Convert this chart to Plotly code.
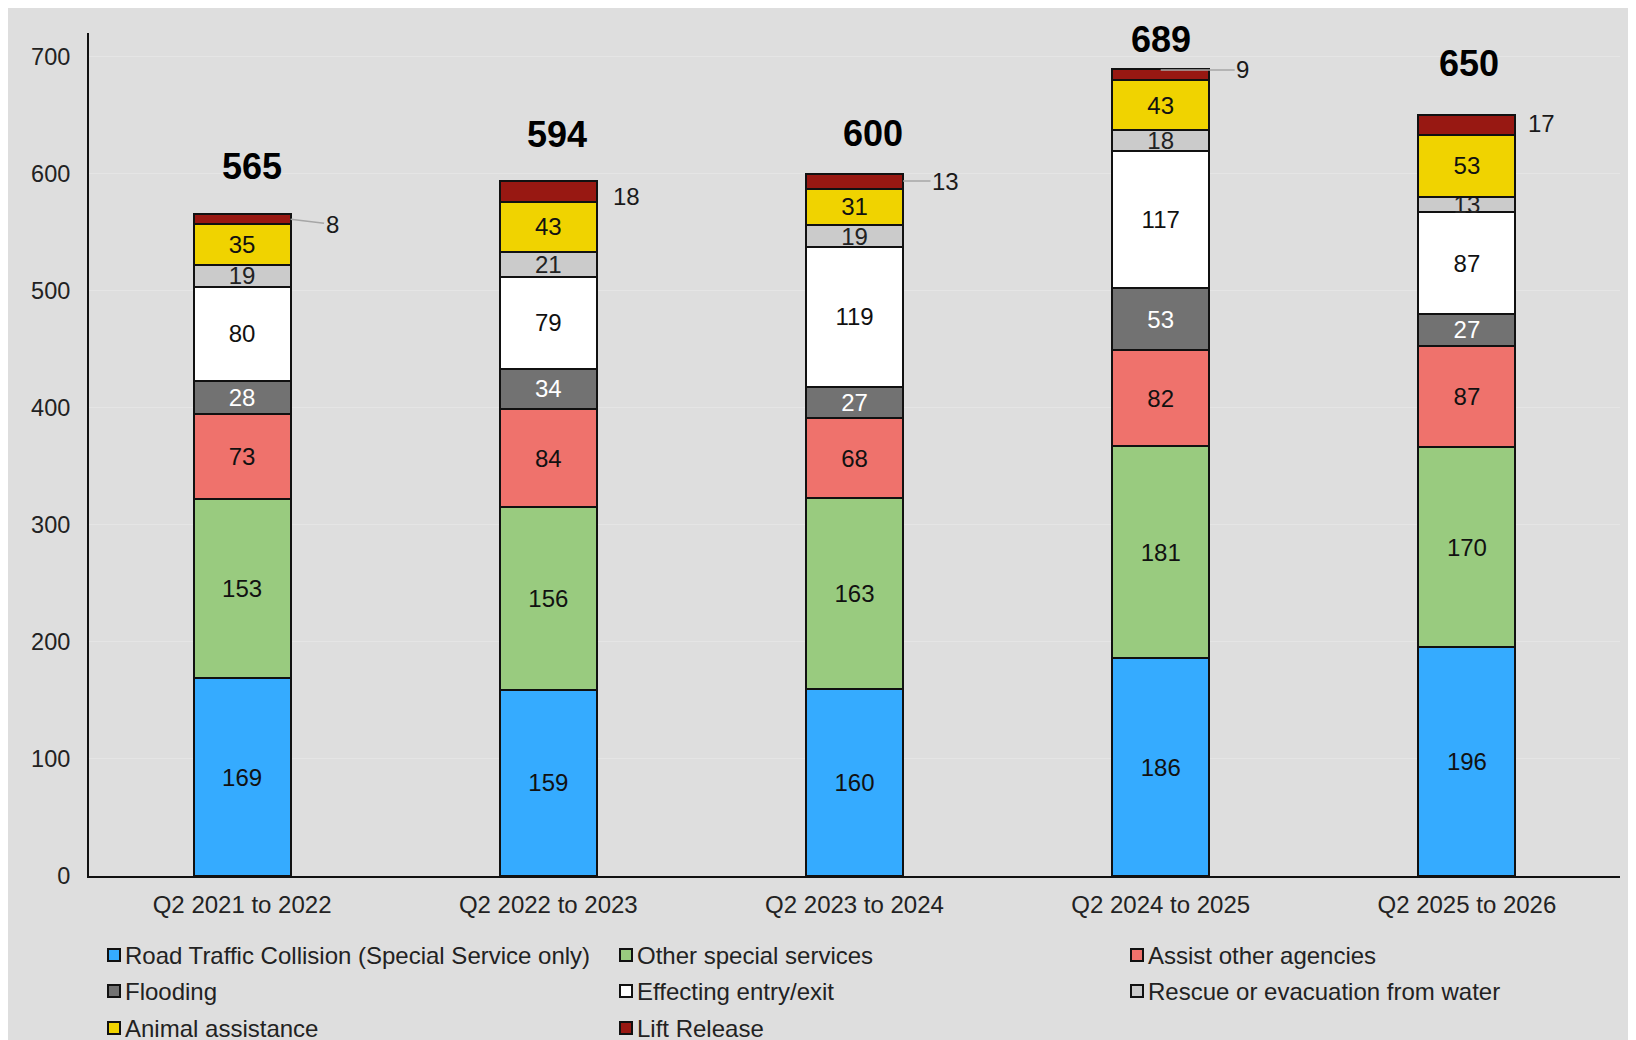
import plotly.graph_objects as go

categories = ["Q2 2021 to 2022", "Q2 2022 to 2023", "Q2 2023 to 2024", "Q2 2024 to 2025", "Q2 2025 to 2026"]

rtc = [169, 159, 160, 186, 196]
other_special = [153, 156, 163, 181, 170]
assist_agencies = [73, 84, 68, 82, 87]
flooding = [28, 34, 27, 53, 27]
effecting_entry = [80, 79, 119, 117, 87]
rescue_water = [19, 21, 19, 18, 13]
animal = [35, 43, 31, 43, 53]
lift_release = [8, 18, 13, 9, 17]

series_names = [
    "Road Traffic Collision (Special Service only)",
    "Other special services",
    "Assist other agencies",
    "Flooding",
    "Effecting entry/exit",
    "Rescue or evacuation from water",
    "Animal assistance",
    "Lift Release",
]
series_values = [rtc, other_special, assist_agencies, flooding, effecting_entry, rescue_water, animal, lift_release]
series_colors = ["#35ABFF", "#99CB7F", "#EF726C", "#727272", "#FFFFFF", "#CBCBCB", "#F0D300", "#981812"]
text_colors = ["#111111", "#111111", "#111111", "#FFFFFF", "#111111", "#222222", "#111111", "#111111"]

# ---- styling / layout constants (pixels, figure coordinates) ----
W, H = 1626, 1040
ML, MR, MT, MB = 81, 14, 25, 172
PW, PH = W - ML - MR, H - MT - MB
CAT_PX = PW / len(categories)
BAR_W = 0.317

total_xshift = [10, 9, 18, 0, 2]
total_yshift = [48, 46, 40, 30, 51]
lift_label_dx = [90, 78, 91, 82, 75]      # label centre relative to bar centre
lift_label_dy = [5, 5, 0, 0, -1]          # positive = lower on screen
lift_has_leader = [True, False, True, True, False]

legend_col_x = [100, 612, 1123]
legend_row_y = [947, 983, 1020]
LEG_BOX = 12

FONT = "Liberation Sans, Arial, sans-serif"
BG = "#DEDEDE"


def px_to_paper_x(px):
    return (px - ML) / PW


def px_to_paper_y(py):
    return (H - MB - py) / PH


fig = go.Figure()
for name, vals, col, tcol in zip(series_names, series_values, series_colors, text_colors):
    is_lift = name == "Lift Release"
    fig.add_trace(go.Bar(
        name=name,
        x=categories,
        y=vals,
        width=BAR_W,
        marker=dict(color=col, line=dict(color="#111111", width=2)),
        texttemplate=None if is_lift else "%{y}",
        textposition="none" if is_lift else "inside",
        insidetextanchor="middle",
        textangle=0,
        constraintext="none",
        textfont=dict(family=FONT, size=24, color=tcol),
        hoverinfo="skip",
        showlegend=False,
    ))

totals = [sum(v[i] for v in series_values) for i in range(len(categories))]
annotations = []
shapes = []
for i, cat in enumerate(categories):
    annotations.append(dict(
        x=i, y=totals[i], xref="x", yref="y",
        text="<b>%d</b>" % totals[i], showarrow=False,
        xshift=total_xshift[i], yshift=total_yshift[i], yanchor="middle",
        font=dict(family=FONT, size=36, color="#000000"),
    ))
    lift_mid = totals[i] - lift_release[i] / 2
    half_bar_px = BAR_W / 2 * CAT_PX
    if lift_has_leader[i]:
        if i == 3:
            tip_x, tip_y, ax = i, totals[i] - 0.5, lift_label_dx[i]
        else:
            tip_x, tip_y, ax = i + BAR_W / 2, lift_mid, lift_label_dx[i] - half_bar_px
        annotations.append(dict(
            x=tip_x, y=tip_y, xref="x", yref="y",
            text=str(lift_release[i]), showarrow=True,
            arrowhead=0, arrowwidth=1.5, arrowcolor="#A6A6A6",
            ax=ax, ay=lift_label_dy[i],
            standoff=0,
            font=dict(family=FONT, size=24, color="#1a1a1a"),
        ))
    else:
        annotations.append(dict(
            x=i, y=lift_mid, xref="x", yref="y",
            text=str(lift_release[i]), showarrow=False,
            xshift=lift_label_dx[i], yshift=-lift_label_dy[i],
            font=dict(family=FONT, size=24, color="#1a1a1a"),
        ))

# manual legend (3 columns)
for k, (name, col) in enumerate(zip(series_names, series_colors)):
    r, c = divmod(k, 3)
    bx = legend_col_x[c]
    by = legend_row_y[r]
    shapes.append(dict(
        type="rect", xref="paper", yref="paper",
        x0=px_to_paper_x(bx), x1=px_to_paper_x(bx + LEG_BOX),
        y0=px_to_paper_y(by + LEG_BOX / 2), y1=px_to_paper_y(by - LEG_BOX / 2),
        fillcolor=col, line=dict(color="#111111", width=2),
    ))
    annotations.append(dict(
        x=px_to_paper_x(bx + LEG_BOX + 3), y=px_to_paper_y(by),
        xref="paper", yref="paper", xanchor="left", yanchor="middle",
        text=name, showarrow=False,
        font=dict(family=FONT, size=24, color="#222222"),
    ))

fig.update_layout(
    width=W, height=H,
    barmode="stack",
    paper_bgcolor=BG,
    plot_bgcolor=BG,
    margin=dict(l=ML, r=MR, t=MT, b=MB, autoexpand=False),
    font=dict(family=FONT, size=24, color="#222222"),
    annotations=annotations,
    shapes=shapes,
    uniformtext=dict(minsize=24, mode="show"),
    showlegend=False,
    xaxis=dict(
        showline=True, linecolor="#111111", linewidth=2,
        ticks="", showgrid=False,
        tickfont=dict(family=FONT, size=24, color="#222222"),
        ticklabelstandoff=6,
    ),
    yaxis=dict(
        range=[0, 720],
        tickvals=[0, 100, 200, 300, 400, 500, 600, 700],
        showline=True, linecolor="#111111", linewidth=2,
        ticks="", showgrid=True, gridcolor="#E5E5E5", gridwidth=1,
        zeroline=False,
        tickfont=dict(family=FONT, size=23.5, color="#222222"),
        ticklabelstandoff=12,
    ),
)

fig.write_html("out.html")
